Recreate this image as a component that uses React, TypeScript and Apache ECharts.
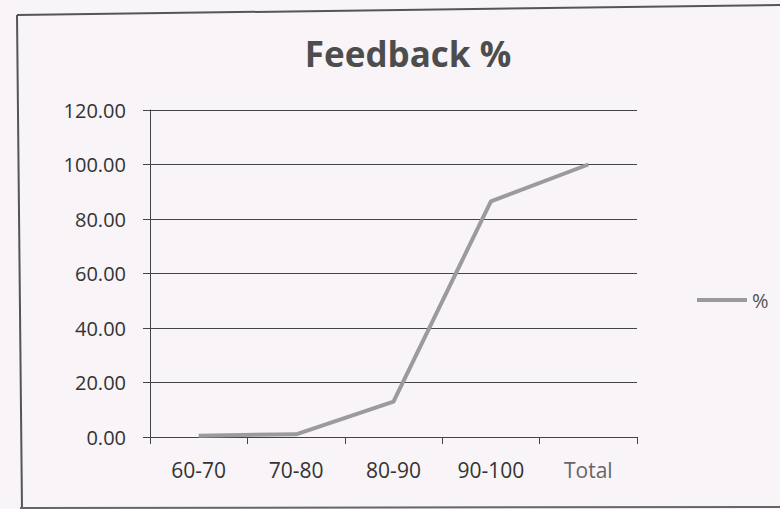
import React, { useEffect, useRef } from "react";
import * as echarts from "echarts";

const categories = ["60-70", "70-80", "80-90", "90-100", "Total"];
const percentValues = [0.5, 1.0, 13.0, 86.5, 100.0];
const yTicks = { min: 0, max: 120, interval: 20 };
const titleText = "Feedback %";
const seriesName = "%";

export default function App() {
  const ref = useRef<HTMLDivElement>(null);
  useEffect(() => {
    if (!ref.current) return;
    const chart = echarts.init(ref.current, undefined, { renderer: "svg" });
    const font = "'Open Sans', 'Noto Sans', sans-serif";
    chart.setOption({
      animation: false,
      backgroundColor: "#f8f4f7",
      textStyle: { fontFamily: font },
      title: {
        text: titleText,
        left: 403,
        top: 31,
        textAlign: "center",
        textStyle: { fontSize: 35, fontWeight: "bold", color: "#4d4d4d", fontFamily: font },
      },
      legend: {
        left: 692,
        top: 285,
        itemWidth: 50,
        itemHeight: 4,
        itemGap: 10,
        textStyle: { fontSize: 20, color: "#555", fontFamily: font },
        data: [{ name: seriesName, icon: "rect", itemStyle: { color: "#9b9b9b" } }],
      },
      grid: { left: 150, right: 143, top: 110, bottom: 72, containLabel: false },
      xAxis: {
        type: "category",
        data: categories,
        boundaryGap: true,
        axisLine: { show: true, lineStyle: { color: "#444", width: 1 } },
        axisTick: { show: true, length: 7, inside: false, lineStyle: { color: "#444" } },
        axisLabel: {
          fontSize: 21,
          margin: 22,
          fontFamily: font,
          color: (v: string) => (v === "Total" ? "#666" : "#333"),
        },
        splitLine: { show: false },
      },
      yAxis: {
        type: "value",
        min: yTicks.min,
        max: yTicks.max,
        interval: yTicks.interval,
        axisLine: { show: true, lineStyle: { color: "#444", width: 1 } },
        axisTick: { show: true, length: 7, inside: false, lineStyle: { color: "#444" } },
        axisLabel: {
          fontSize: 20,
          margin: 24,
          color: "#333",
          fontFamily: font,
          formatter: (v: number) => v.toFixed(2),
        },
        splitLine: { show: true, lineStyle: { color: "#444", width: 1 } },
      },
      series: [
        {
          name: seriesName,
          type: "line",
          data: percentValues,
          symbol: "none",
          lineStyle: { color: "#9b9b9b", width: 4 },
          itemStyle: { color: "#9b9b9b" },
        },
      ],
      graphic: [
        { type: "line", shape: { x1: 17, y1: 15, x2: 780, y2: 5 }, style: { stroke: "#555", lineWidth: 2 } },
        { type: "line", shape: { x1: 17, y1: 15, x2: 22, y2: 509 }, style: { stroke: "#555", lineWidth: 2 } },
        { type: "line", shape: { x1: 20, y1: 508, x2: 780, y2: 507 }, style: { stroke: "#666", lineWidth: 2 } },
      ],
    });
    return () => chart.dispose();
  }, []);
  return (
    <div
      ref={ref}
      style={{ position: "absolute", left: 0, top: 0, width: 780, height: 509 }}
    />
  );
}
